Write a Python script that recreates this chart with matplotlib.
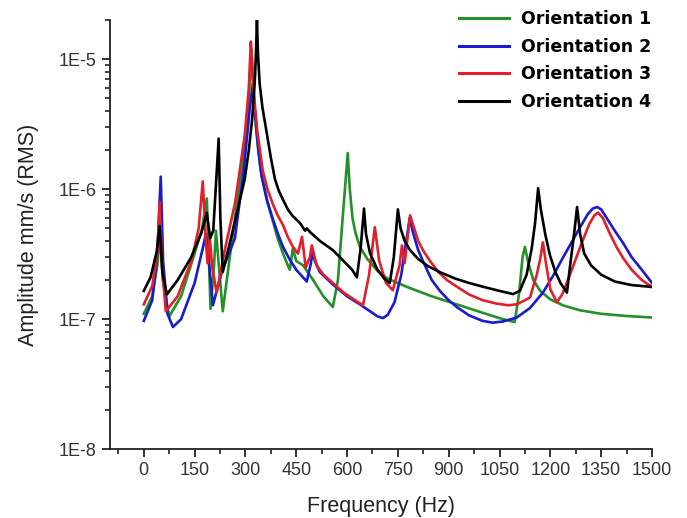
import matplotlib
matplotlib.use("Agg")
import matplotlib.pyplot as plt
from matplotlib.ticker import MultipleLocator, LogLocator, NullFormatter, FixedLocator

# ---- data ----
f_o1 = [0, 25, 40, 48, 56, 75, 110, 150, 172, 186, 192, 197, 207, 213, 222, 233, 260, 290, 310, 318,
        323, 332, 345, 362, 380, 395, 411, 425, 431, 440, 450, 470, 500, 530, 558, 573, 588, 602, 608,
        616, 625, 638, 660, 690, 720, 777, 850, 924, 1000, 1060, 1095, 1108, 1118, 1125, 1135, 1150,
        1170, 1200, 1240, 1288, 1350, 1420, 1500]
a_o1 = [1.1e-7, 1.5e-7, 2.6e-7, 4.5e-7, 2.0e-7, 1.05e-7, 1.5e-7, 3.2e-7, 5e-7, 8.5e-7, 3e-7, 1.2e-7,
        2.5e-7, 4.8e-7, 2.5e-7, 1.15e-7, 4e-7, 1.5e-6, 5e-6, 1.2e-5,
        6e-6, 2.8e-6, 1.4e-6, 8.5e-7, 5.8e-7, 4.2e-7, 3.2e-7, 2.6e-7, 2.4e-7, 3.5e-7, 2.8e-7, 2.6e-7,
        2.0e-7, 1.5e-7, 1.24e-7, 2.0e-7, 6.5e-7, 1.9e-6, 1.0e-6,
        6e-7, 4.6e-7, 3.6e-7, 2.9e-7, 2.35e-7, 2.05e-7, 1.77e-7, 1.5e-7, 1.3e-7, 1.12e-7, 1.0e-7,
        9.5e-8, 1.6e-7, 3e-7, 3.6e-7, 2.7e-7, 2.0e-7,
        1.65e-7, 1.42e-7, 1.27e-7, 1.17e-7, 1.1e-7, 1.06e-7, 1.03e-7]

f_o2 = [0, 25, 40, 50, 57, 70, 86, 110, 150, 175, 183, 190, 204, 230, 269, 295, 312, 322, 328, 338,
        348, 365, 380, 395, 411, 430, 450, 470, 481, 492, 499, 505, 520, 558, 600, 638, 670, 690, 706,
        720, 740, 760, 772, 785, 795, 810, 824, 850, 874, 900, 924, 960, 1000, 1030, 1060, 1101, 1140,
        1178, 1210, 1238, 1265, 1288, 1310, 1325, 1338, 1350, 1370, 1390, 1415, 1440, 1470, 1500]
a_o2 = [9.7e-8, 1.4e-7, 3.2e-7, 1.25e-6, 2.8e-7, 1.1e-7, 8.7e-8, 1.0e-7, 1.9e-7, 3.6e-7, 4.5e-7, 3.2e-7,
        1.28e-7, 2.3e-7, 4.2e-7, 1.4e-6, 4e-6, 6.5e-6, 4e-6, 2e-6,
        1.25e-6, 8e-7, 6e-7, 4.6e-7, 3.6e-7, 2.9e-7, 2.4e-7, 2.1e-7, 1.95e-7, 2.6e-7, 3.3e-7, 2.8e-7,
        2.3e-7, 1.85e-7, 1.5e-7, 1.3e-7, 1.14e-7, 1.05e-7, 1.02e-7,
        1.08e-7, 1.35e-7, 2.2e-7, 3.6e-7, 6.0e-7, 4.6e-7, 3.4e-7, 2.8e-7, 2.0e-7, 1.65e-7, 1.4e-7,
        1.24e-7, 1.07e-7, 9.7e-8, 9.4e-8, 9.6e-8, 1.03e-7, 1.22e-7,
        1.6e-7, 2.2e-7, 3.0e-7, 4.0e-7, 5.1e-7, 6.4e-7, 7.1e-7, 7.3e-7, 7.0e-7, 5.8e-7, 4.8e-7, 3.85e-7,
        3.0e-7, 2.4e-7, 1.9e-7]

f_o3 = [0, 25, 40, 47, 54, 65, 100, 140, 162, 174, 182, 188, 195, 202, 215, 240, 270, 298, 310, 316,
        320, 326, 335, 351, 365, 380, 395, 411, 425, 440, 455, 467, 478, 490, 496, 510, 530, 558, 590,
        620, 647, 665, 682, 695, 715, 735, 755, 762, 770, 786, 795, 810, 824, 845, 870, 895, 924, 960,
        1000, 1040, 1075, 1101, 1125, 1140, 1160, 1170, 1178, 1188, 1200, 1219, 1235, 1255, 1275,
        1295, 1315, 1330, 1341, 1355, 1375, 1395, 1415, 1440, 1470, 1500]
a_o3 = [1.3e-7, 1.8e-7, 3.3e-7, 8e-7, 2.5e-7, 1.15e-7, 1.5e-7, 2.8e-7, 5e-7, 1.15e-6, 4.5e-7, 2.7e-7,
        4.2e-7, 2.5e-7, 1.6e-7, 3.5e-7, 8e-7, 2.6e-6, 6e-6, 1.37e-5,
        9e-6, 5e-6, 2.8e-6, 1.4e-6, 1.0e-6, 7.8e-7, 6.3e-7, 5.3e-7, 4.3e-7, 3.6e-7, 3.2e-7, 4.3e-7,
        2.5e-7, 3.0e-7, 3.7e-7, 2.6e-7, 2.2e-7, 1.9e-7, 1.6e-7,
        1.42e-7, 1.28e-7, 2.2e-7, 5.1e-7, 2.8e-7, 1.9e-7, 1.67e-7, 2.6e-7, 3.7e-7, 2.7e-7, 6.3e-7,
        5.3e-7, 4.0e-7, 3.4e-7, 2.8e-7, 2.3e-7, 2.0e-7, 1.78e-7, 1.55e-7,
        1.4e-7, 1.32e-7, 1.28e-7, 1.3e-7, 1.4e-7, 1.47e-7, 2.2e-7, 2.9e-7, 3.9e-7, 2.6e-7, 1.7e-7,
        1.35e-7, 1.55e-7, 2.1e-7, 2.9e-7,
        4.0e-7, 5.4e-7, 6.3e-7, 6.6e-7, 6.0e-7, 4.6e-7, 3.6e-7, 2.95e-7, 2.4e-7, 2.0e-7, 1.77e-7]

f_o4 = [0, 20, 38, 47, 55, 68, 100, 140, 170, 186, 196, 205, 214, 221, 226, 233, 260, 298, 310, 320,
        328, 331, 334, 337, 342, 350, 363, 375, 387, 398, 410, 425, 440, 461, 476, 481, 490, 520, 558,
        590, 615, 629, 640, 650, 656, 668, 690, 710, 726, 738, 750, 758, 770, 786, 810, 840, 874, 920,
        960, 1000, 1050, 1090, 1110, 1130, 1145, 1155, 1164, 1172, 1185, 1199, 1215, 1230, 1249, 1260,
        1270, 1279, 1288, 1300, 1320, 1350, 1390, 1440, 1500]
a_o4 = [1.65e-7, 2.1e-7, 3.3e-7, 5.2e-7, 2.3e-7, 1.55e-7, 2.0e-7, 3.0e-7, 4.6e-7, 6.6e-7, 4.2e-7,
        4.8e-7, 1.2e-6, 2.45e-6, 6e-7, 2.3e-7, 4.5e-7, 1.2e-6, 2.0e-6, 3.5e-6,
        7e-6, 1.1e-5, 2.0e-5, 1.1e-5, 6.5e-6, 4.3e-6, 2.7e-6, 1.75e-6, 1.2e-6, 9.8e-7, 8.4e-7, 7.0e-7,
        6.2e-7, 5.5e-7, 4.8e-7, 5.0e-7, 4.7e-7, 4.0e-7, 3.4e-7,
        2.8e-7, 2.4e-7, 2.1e-7, 3.5e-7, 7.1e-7, 4.5e-7, 3.2e-7, 2.4e-7, 2.05e-7, 1.9e-7, 3.0e-7,
        7e-7, 5e-7, 4.0e-7, 3.4e-7, 2.9e-7, 2.55e-7, 2.3e-7, 2.05e-7,
        1.9e-7, 1.78e-7, 1.65e-7, 1.56e-7, 1.65e-7, 2.2e-7, 3.5e-7, 5.5e-7, 1.02e-6, 7e-7, 4.5e-7,
        3.1e-7, 2.3e-7, 1.9e-7, 1.6e-7, 2.8e-7,
        4.5e-7, 7.3e-7, 4.5e-7, 3.2e-7, 2.6e-7, 2.2e-7, 1.95e-7, 1.83e-7, 1.77e-7]

labels = ["Orientation 1", "Orientation 2", "Orientation 3", "Orientation 4"]
colors = ["#23902a", "#1a1ad0", "#e0202a", "#000000"]
x_ticks = [0, 150, 300, 450, 600, 750, 900, 1050, 1200, 1350, 1500]
y_ticks = [1e-8, 1e-7, 1e-6, 1e-5]
y_ticklabels = ["1E-8", "1E-7", "1E-6", "1E-5"]

# ---- figure ----
fig = plt.figure(figsize=(6.87, 5.18), dpi=100)
ax = fig.add_axes([0.160, 0.133, 0.789, 0.828])

series = [(f_o1, a_o1), (f_o2, a_o2), (f_o3, a_o3), (f_o4, a_o4)]
for (f, a), lab, c in zip(series, labels, colors):
    ax.plot(f, a, color=c, lw=1.9, label=lab, solid_joinstyle="round")

ax.set_yscale("log")
ax.set_xlim(-100, 1500)
ax.set_ylim(1e-8, 2e-5)

ax.spines["top"].set_visible(False)
ax.spines["right"].set_visible(False)
for s in ("left", "bottom"):
    ax.spines[s].set_linewidth(1.3)
    ax.spines[s].set_color("#222222")

ax.xaxis.set_major_locator(FixedLocator(x_ticks))
ax.xaxis.set_minor_locator(MultipleLocator(75))
ax.set_xticklabels([str(v) for v in x_ticks])
ax.yaxis.set_major_locator(FixedLocator(y_ticks))
ax.set_yticklabels(y_ticklabels)
ax.yaxis.set_minor_locator(LogLocator(base=10, subs=range(2, 10)))
ax.yaxis.set_minor_formatter(NullFormatter())

tick_font = "Liberation Sans"
ax.tick_params(which="major", direction="out", length=6, width=1.3, color="#222222",
               labelsize=13, labelcolor="#333333")
ax.tick_params(which="minor", direction="out", length=3.5, width=1.2, color="#222222")
for lbl in ax.get_xticklabels() + ax.get_yticklabels():
    lbl.set_fontfamily(tick_font)

ax.set_xlabel("Frequency (Hz)", fontsize=15.5, family=tick_font, color="#222222", labelpad=12)
ax.set_ylabel("Amplitude mm/s (RMS)", fontsize=15.5, family=tick_font, color="#222222", labelpad=14)

leg = ax.legend(loc="upper right", bbox_to_anchor=(1.028, 1.06), frameon=False,
                prop={"family": "DejaVu Sans", "weight": "bold", "size": 12.5},
                handlelength=2.9, handletextpad=0.7, labelspacing=0.55)
for h in leg.legend_handles:
    h.set_linewidth(2.2)

fig.savefig("out.png", dpi=100)
